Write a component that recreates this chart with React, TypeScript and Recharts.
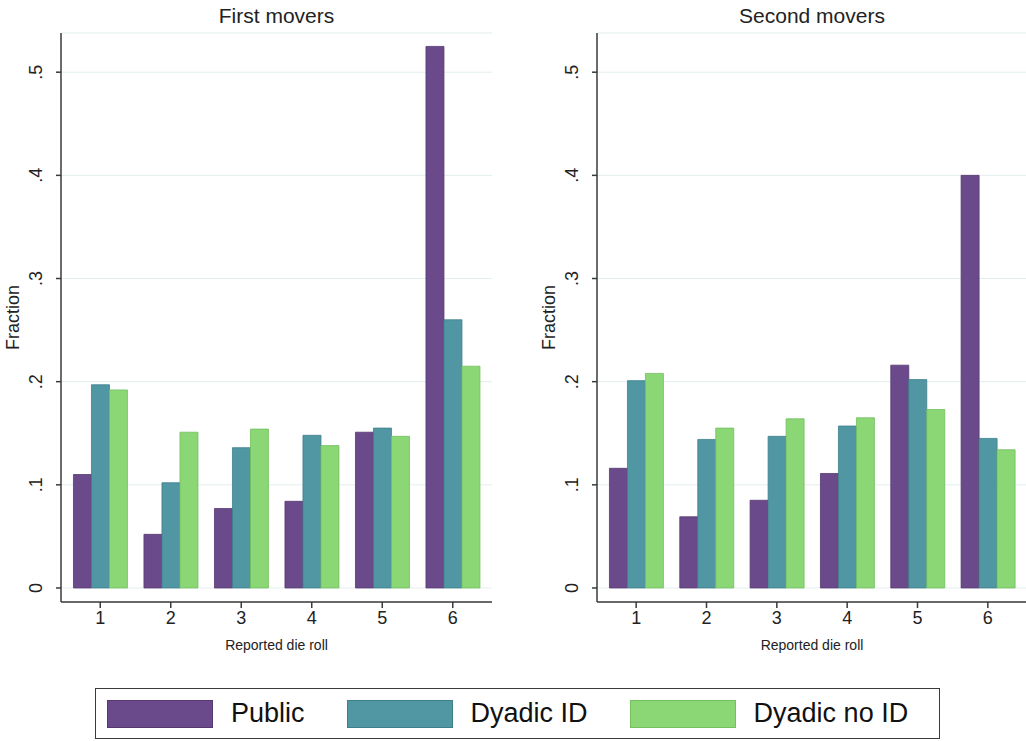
import React from "react";
import { Bar, BarChart, CartesianGrid, XAxis, YAxis } from "recharts";

// die roll categories and the three treatments
const rolls = ["1", "2", "3", "4", "5", "6"];
const seriesKeys = ["pub", "dyadicId", "dyadicNoId"];
const seriesNames = ["Public", "Dyadic ID", "Dyadic no ID"];
const seriesColors = ["#6b4a8b", "#5197a3", "#8bd675"];
const seriesStrokes = ["#553870", "#3f7f8a", "#74bf60"];

// first movers, fraction by reported roll
const firstPublic = [0.11, 0.052, 0.077, 0.084, 0.151, 0.525];
const firstDyadicId = [0.197, 0.102, 0.136, 0.148, 0.155, 0.26];
const firstDyadicNoId = [0.192, 0.151, 0.154, 0.138, 0.147, 0.215];

// second movers
const secondPublic = [0.116, 0.069, 0.085, 0.111, 0.216, 0.4];
const secondDyadicId = [0.201, 0.144, 0.147, 0.157, 0.202, 0.145];
const secondDyadicNoId = [0.208, 0.155, 0.164, 0.165, 0.173, 0.134];

const yTicks = [0, 0.1, 0.2, 0.3, 0.4, 0.5];
const yTickLabels = ["0", ".1", ".2", ".3", ".4", ".5"];
const yDomain: [number, number] = [-0.0136, 0.538];

const FONT = "'Liberation Sans', Arial, sans-serif";
const AXIS = "#3a3a3a";

function buildRows(a: number[], b: number[], c: number[]) {
  return rolls.map((roll, i) => ({ roll, pub: a[i], dyadicId: b[i], dyadicNoId: c[i] }));
}

const firstRows = buildRows(firstPublic, firstDyadicId, firstDyadicNoId);
const secondRows = buildRows(secondPublic, secondDyadicId, secondDyadicNoId);

// Stata style: y labels turned on their side
function YTick(props: any) {
  const { x, y, payload } = props;
  const i = yTicks.indexOf(payload.value);
  const label = i >= 0 ? yTickLabels[i] : String(payload.value);
  const cx = x - 18;
  return (
    <text
      x={cx}
      y={y}
      transform={`rotate(-90, ${cx}, ${y})`}
      textAnchor="middle"
      dominantBaseline="central"
      fontSize={18}
      fill="#222"
    >
      {label}
    </text>
  );
}

function YLabel(props: any) {
  const { viewBox } = props;
  const cx = viewBox.x + 13;
  const cy = viewBox.y + viewBox.height / 2;
  return (
    <text
      x={cx}
      y={cy}
      transform={`rotate(-90, ${cx}, ${cy})`}
      textAnchor="middle"
      dominantBaseline="central"
      fontSize={18}
      fill="#222"
    >
      Fraction
    </text>
  );
}

function Panel({ title, rows, left, width }: { title: string; rows: any[]; left: number; width: number }) {
  const plotLeft = 61;
  const plotWidth = width - plotLeft - 8;
  return (
    <div style={{ position: "absolute", left, top: 0, width, height: 660 }}>
      <div
        style={{
          position: "absolute",
          left: plotLeft,
          width: plotWidth,
          top: 0,
          height: 32,
          lineHeight: "32px",
          textAlign: "center",
          fontSize: 21,
          color: "#222",
        }}
      >
        {title}
      </div>
      <BarChart
        width={width}
        height={660}
        data={rows}
        margin={{ top: 33, right: 8, left: 0, bottom: 8 }}
        barCategoryGap="12%"
        barGap={0}
      >
        <CartesianGrid vertical={false} stroke="#e3eeee" strokeWidth={1} />
        <XAxis
          dataKey="roll"
          height={50}
          padding={{ left: 4, right: 4 }}
          axisLine={{ stroke: AXIS, strokeWidth: 1.5 }}
          tickLine={{ stroke: AXIS, strokeWidth: 1.5 }}
          tickSize={6}
          tickMargin={3}
          tick={{ fontSize: 18, fill: "#222" }}
          label={{ value: "Reported die roll", position: "insideBottom", offset: 2, fontSize: 14, fill: "#222" }}
        />
        <YAxis
          type="number"
          domain={yDomain}
          ticks={yTicks}
          width={plotLeft}
          allowDataOverflow
          axisLine={{ stroke: AXIS, strokeWidth: 1.5 }}
          tickLine={{ stroke: AXIS, strokeWidth: 1.5 }}
          tickSize={5}
          tickMargin={2}
          tick={<YTick />}
          label={<YLabel />}
        />
        {seriesKeys.map((k, i) => (
          <Bar
            key={k}
            dataKey={k}
            name={seriesNames[i]}
            fill={seriesColors[i]}
            stroke={seriesStrokes[i]}
            strokeWidth={0.8}
            isAnimationActive={false}
          />
        ))}
      </BarChart>
    </div>
  );
}

function Legend() {
  return (
    <div
      style={{
        position: "absolute",
        left: 95,
        top: 688,
        width: 845,
        height: 51,
        boxSizing: "border-box",
        border: `1.5px solid ${AXIS}`,
        display: "flex",
        alignItems: "center",
        paddingLeft: 11,
        gap: 42,
      }}
    >
      {seriesNames.map((name, i) => (
        <div key={name} style={{ display: "flex", alignItems: "center" }}>
          <div
            style={{
              width: 106,
              height: 28,
              boxSizing: "border-box",
              background: seriesColors[i],
              border: `1.5px solid ${seriesStrokes[i]}`,
            }}
          />
          <span style={{ marginLeft: 18, fontSize: 27, color: "#111" }}>{name}</span>
        </div>
      ))}
    </div>
  );
}

export default function App() {
  return (
    <div
      style={{
        position: "absolute",
        left: 0,
        top: 0,
        width: 1026,
        height: 741,
        background: "#fff",
        overflow: "hidden",
        fontFamily: FONT,
      }}
    >
      <Panel title="First movers" rows={firstRows} left={0} width={500} />
      <Panel title="Second movers" rows={secondRows} left={536} width={499} />
      <Legend />
    </div>
  );
}
